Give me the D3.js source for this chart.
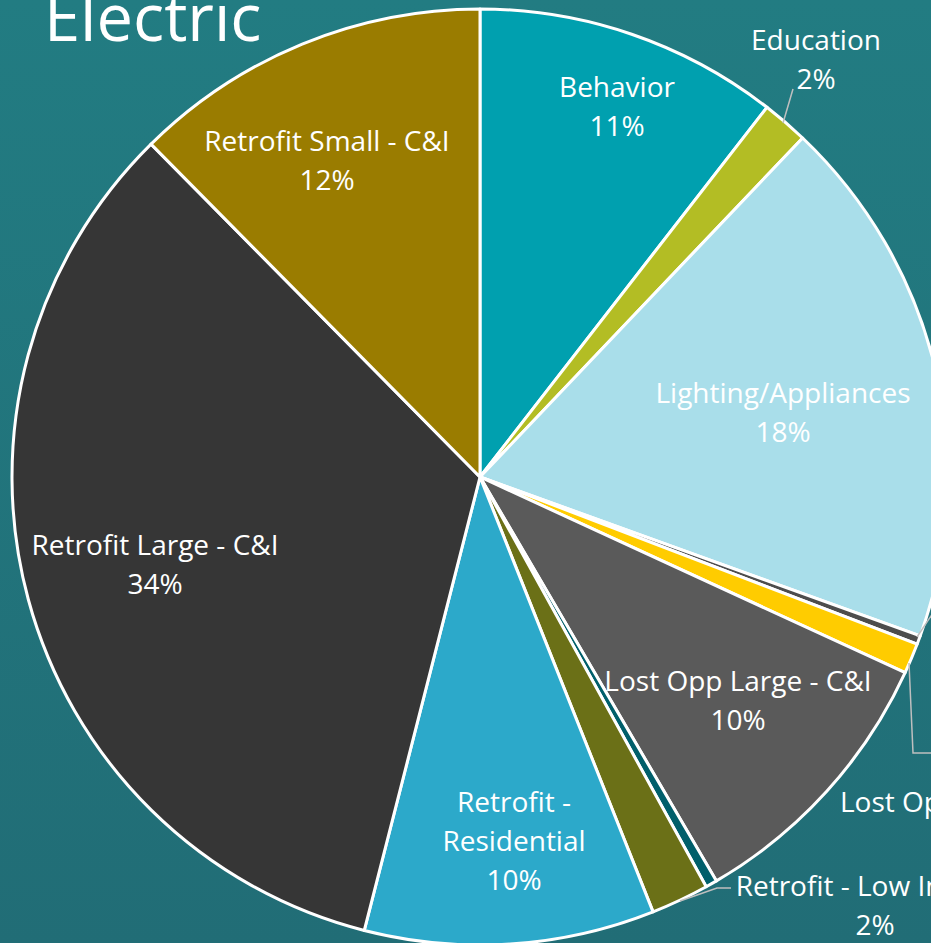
<!DOCTYPE html>
<html>
<head>
<meta charset="utf-8">
<script src="https://cdn.jsdelivr.net/npm/d3@7"></script>
<style>
  html, body { margin: 0; padding: 0; overflow: hidden; }
  body { width: 931px; height: 943px; }
  text { font-family: "Open Sans", "Noto Sans", sans-serif; fill: #fff; }
</style>
</head>
<body>
<div id="chart"></div>
<script>
// Electric program spending share (percent)
var categories = ["Behavior", "Education", "Lighting/Appliances", "Lost Opp Large - Residential",
                  "Lost Opp Small - C&I", "Lost Opp Large - C&I", "Retrofit - Other",
                  "Retrofit - Low Income", "Retrofit - Residential", "Retrofit Large - C&I",
                  "Retrofit Small - C&I"];
var values = [10.5, 1.6, 18.4, 0.3, 1.05, 9.7, 0.4, 2.0, 10.0, 33.6, 12.4];
var pctLabels = ["11%", "2%", "18%", "0%", "1%", "10%", "0%", "2%", "10%", "34%", "12%"];
var colors = ["#00a0af", "#b3bd24", "#a9deea", "#4d4d4d", "#ffcc00", "#5a5a5a",
              "#005f6b", "#6b7017", "#2ca9ca", "#363636", "#9a7c00"];

var width = 931,
    height = 943;

var cx = 480, cy = 477, radius = 468;

var svg = d3.select("#chart").append("svg")
    .attr("width", width)
    .attr("height", height);

// background gradient
var defs = svg.append("defs");
var grad = defs.append("linearGradient")
    .attr("id", "bg")
    .attr("x1", 0).attr("y1", 0).attr("x2", 0).attr("y2", 1);
grad.append("stop").attr("offset", "0%").attr("stop-color", "#227c82");
grad.append("stop").attr("offset", "100%").attr("stop-color", "#216d76");

svg.append("rect")
    .attr("width", width)
    .attr("height", height)
    .attr("fill", "url(#bg)");

// title (cut off at the top like the slide)
svg.append("text")
    .attr("x", 44)
    .attr("y", 41)
    .style("font-size", "65px")
    .text("Electric");

var g = svg.append("g")
    .attr("transform", "translate(" + cx + "," + cy + ")");

var pie = d3.pie().sort(null).value(function(d) { return d; });
var arcs = pie(values);

var arc = d3.arc().innerRadius(0).outerRadius(radius);

g.selectAll("path.slice")
    .data(arcs)
  .enter().append("path")
    .attr("class", "slice")
    .attr("d", arc)
    .attr("fill", function(d, i) { return colors[i]; })
    .attr("stroke", "#fff")
    .attr("stroke-width", 3)
    .attr("stroke-linejoin", "round");

var fs = 28, lh = 39;

// label centres for the slices that hold their own label
var labelPos = { 0: [617, 106], 2: [783, 412], 5: [738, 700], 8: [514, 841], 9: [155, 564], 10: [327, 160] };

Object.keys(labelPos).forEach(function(k) {
  var i = +k;
  var x = labelPos[k][0], y = labelPos[k][1];
  var lines = i === 8 ? ["Retrofit -", "Residential", pctLabels[i]] : [categories[i], pctLabels[i]];
  var t = svg.append("text")
      .attr("text-anchor", "middle")
      .style("font-size", fs + "px");
  lines.forEach(function(l, j) {
    t.append("tspan")
      .attr("x", x)
      .attr("y", y + (j - (lines.length - 1) / 2) * lh + fs * 0.36)
      .text(l);
  });
});

// outside labels with leader lines
function leader(pts) {
  svg.append("polyline")
      .attr("points", pts.map(function(p) { return p.join(","); }).join(" "))
      .attr("fill", "none")
      .attr("stroke", "#bfbfbf")
      .attr("stroke-width", 1.5);
}

function outsideLabel(lines, x, y, anchor) {
  var t = svg.append("text")
      .attr("text-anchor", anchor || "middle")
      .style("font-size", fs + "px");
  lines.forEach(function(l, j) {
    t.append("tspan").attr("x", x).attr("y", y + j * lh).text(l);
  });
}

// Education
leader([[783, 123], [793, 89]]);
outsideLabel([categories[1], pctLabels[1]], 816, 50);

// Retrofit - Low Income
leader([[680, 901], [717, 888], [731, 888]]);
outsideLabel([categories[7], pctLabels[7]], 875, 896);

// tiny Lost Opp slices (labels run off the slide)
leader([[917, 637], [935, 610]]);
leader([[909, 663], [913, 753], [935, 753]]);
outsideLabel([categories[4]], 840, 812, "start");
</script>
</body>
</html>
